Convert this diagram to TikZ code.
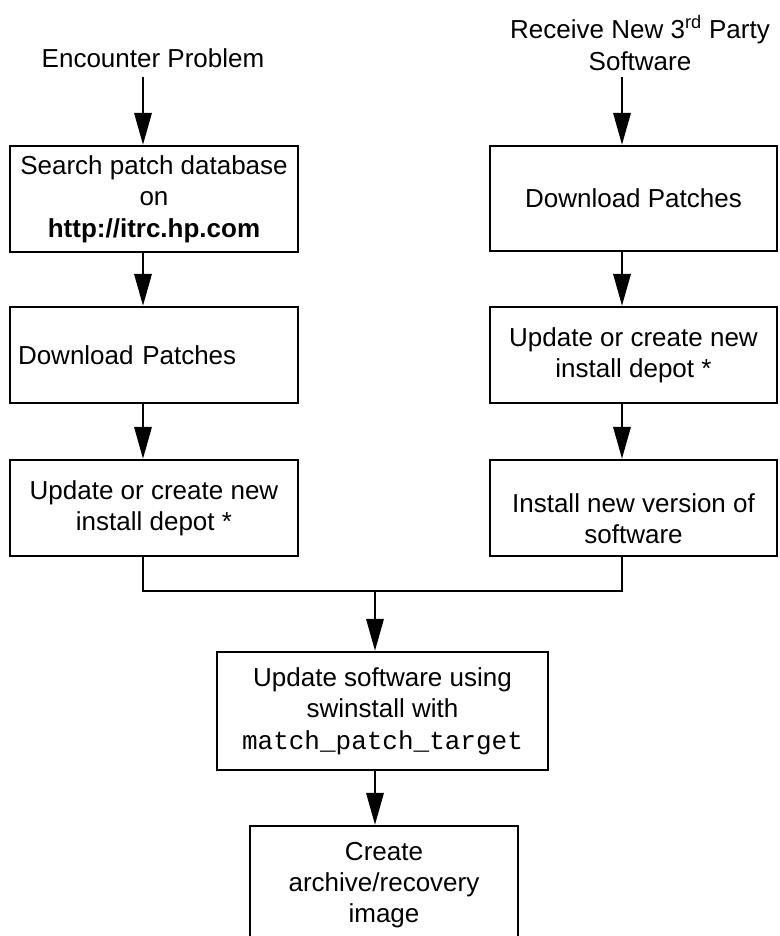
\documentclass[tikz,border=0pt]{standalone}
\usepackage{fontspec}
\setmainfont{Liberation Sans}
\setmonofont{Liberation Mono}
\usetikzlibrary{arrows.meta}

\tikzset{
  txt/.style={font=\fontsize{19.5}{23.5}\selectfont},
  procbox/.style={draw, txt, line width=1.8pt, minimum width=216pt, minimum height=72pt, align=center, inner sep=0pt},
  flow/.style={line width=1.8pt, -{Triangle[length=24pt,width=13pt]}},
  joinline/.style={line width=1.8pt},
}

\begin{document}
\begin{tikzpicture}[x=0.75pt,y=0.75pt,yscale=-1,xscale=1]
\useasboundingbox (0,0) rectangle (779,936);

% column guides
\coordinate (lcol) at (143,0);
\coordinate (rcol) at (622,0);
\coordinate (encout) at (143,77);
\coordinate (rcvout) at (622,77);
\coordinate (merge) at (375,591);

% Text Node
\node[txt] (enc) at (153,58) {Encounter Problem};
% Text Node
\node[txt, align=center] (rcv) at (640,43) {Receive New 3\textsuperscript{rd} Party\\Software};

%Left column
\node[procbox, minimum height=79.5pt] (search) at (154,199) {Search patch database\\on\\\textbf{http://itrc.hp.com}};
\node[procbox, align=left, text width=204pt] (dlleft) at (154,355) {Download Patches};
\node[procbox] (depleft) at (154,508) {Update or create new\\install depot *};

%Right column
\node[procbox, minimum width=215.25pt, minimum height=78.75pt] (dlright) at (633.5,198.5) {Download Patches};
\node[procbox, minimum width=215.25pt] (depright) at (633.5,355) {Update or create new\\install depot *};
\node[procbox, minimum width=215.25pt] (instright) at (633.5,508) {};
\node[txt, align=center] (instlbl) at ([yshift=8pt]instright.center) {Install new version of\\software};

%Joined steps
\node[procbox, minimum width=248.25pt, minimum height=88.5pt] (update) at (382.5,711) {Update software using\\swinstall with\\\texttt{match\_patch\_target}};
\node[procbox, minimum width=201pt, minimum height=88.5pt] (archive) at (384,885) {Create\\archive/recovery\\image};

%Connectors
\draw[flow] (encout) -- (search.north -| lcol);
\draw[flow] (search.south -| lcol) -- (dlleft.north -| lcol);
\draw[flow] (dlleft.south -| lcol) -- (depleft.north -| lcol);
\draw[flow] (rcvout) -- (dlright.north -| rcol);
\draw[flow] (dlright.south -| rcol) -- (depright.north -| rcol);
\draw[flow] (depright.south -| rcol) -- (instright.north -| rcol);
\draw[joinline] (depleft.south -| lcol) -- (lcol |- merge) -- (rcol |- merge) -- (instright.south -| rcol);
\draw[flow] (merge) -- (update.north -| merge);
\draw[flow] (update.south -| merge) -- (archive.north -| merge);
\end{tikzpicture}
\end{document}
